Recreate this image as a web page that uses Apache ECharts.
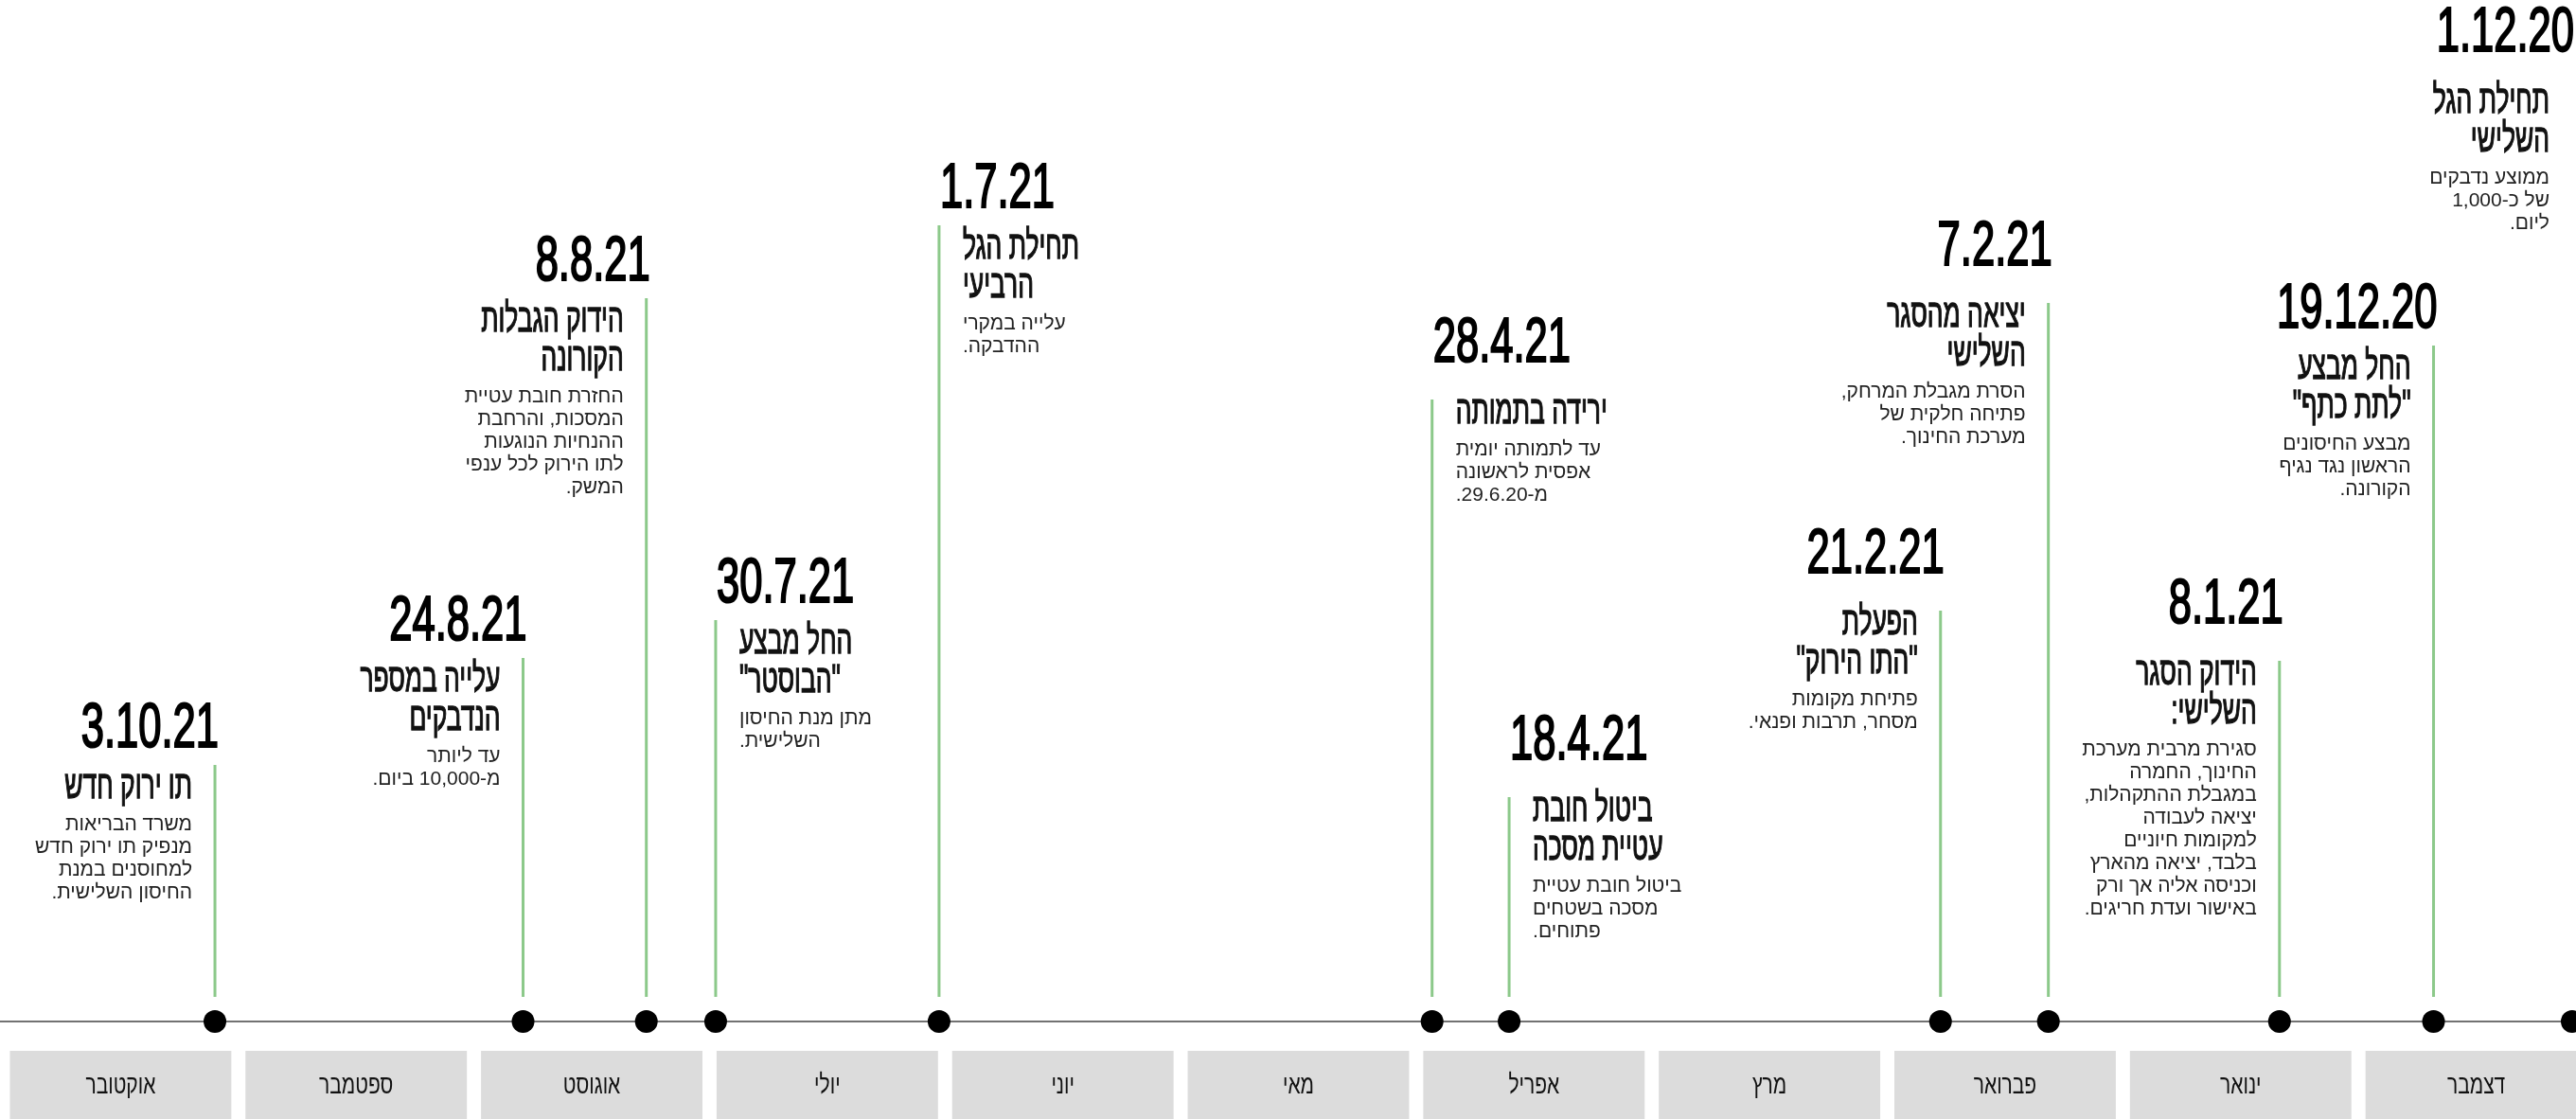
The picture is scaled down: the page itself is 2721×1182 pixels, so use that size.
<!DOCTYPE html>
<html lang="he">
<head>
<meta charset="utf-8">
<title>ציר זמן</title>
<script src="https://cdn.jsdelivr.net/npm/echarts@6/dist/echarts.min.js"></script>
<style>
  html, body { margin: 0; padding: 0; background: #fff; }
  #chart { width: 2721px; height: 1182px; }
</style>
</head>
<body>
<div id="chart" dir="rtl"></div>
<script>
// ---- data ----
const eventDates = ['2020-12-01', '2020-12-19', '2021-01-08', '2021-02-07', '2021-02-21', '2021-04-18',
  '2021-04-28', '2021-07-01', '2021-07-30', '2021-08-08', '2021-08-24', '2021-10-03'];
const eventLabels = ['1.12.20', '19.12.20', '8.1.21', '7.2.21', '21.2.21', '18.4.21',
  '28.4.21', '1.7.21', '30.7.21', '8.8.21', '24.8.21', '3.10.21'];
const eventTitles = [
  'תחילת הגל\nהשלישי',
  'החל מבצע\n"לתת כתף"',
  'הידוק הסגר\nהשלישי:',
  'יציאה מהסגר\nהשלישי',
  'הפעלת\n"התו הירוק"',
  'ביטול חובת\nעטיית מסכה',
  'ירידה בתמותה',
  'תחילת הגל\nהרביעי',
  'החל מבצע\n"הבוסטר"',
  'הידוק הגבלות\nהקורונה',
  'עלייה במספר\nהנדבקים',
  'תו ירוק חדש'
];
const eventTexts = [
  'ממוצע נדבקים\nשל כ-1,000\nליום.',
  'מבצע החיסונים\nהראשון נגד נגיף\nהקורונה.',
  'סגירת מרבית מערכת\nהחינוך, החמרה\nבמגבלת ההתקהלות,\nיציאה לעבודה\nלמקומות חיוניים\nבלבד, יציאה מהארץ\nוכניסה אליה אך ורק\nבאישור ועדת חריגים.',
  'הסרת מגבלת המרחק,\nפתיחה חלקית של\nמערכת החינוך.',
  'פתיחת מקומות\nמסחר, תרבות ופנאי.',
  'ביטול חובת עטיית\nמסכה בשטחים\nפתוחים.',
  'עד לתמותה יומית\nאפסית לראשונה\nמ-29.6.20.',
  'עלייה במקרי\nההדבקה.',
  'מתן מנת החיסון\nהשלישית.',
  'החזרת חובת עטיית\nהמסכות, והרחבת\nההנחיות הנוגעות\nלתו הירוק לכל ענפי\nהמשק.',
  'עד ליותר\nמ-10,000 ביום.',
  'משרד הבריאות\nמנפיק תו ירוק חדש\nלמחוסנים במנת\nהחיסון השלישית.'
];
// height of each stem above the axis
const stemHeights = [985, 714, 381, 759, 434, 237, 657, 841, 424, 764, 384, 271];
const months = ['דצמבר', 'ינואר', 'פברואר', 'מרץ', 'אפריל', 'מאי', 'יוני', 'יולי', 'אוגוסט', 'ספטמבר', 'אוקטובר'];

// ---- layout ----
const textSide = ['L', 'L', 'L', 'L', 'L', 'R', 'R', 'R', 'R', 'L', 'L', 'L'];
// 'A' = date close to the stem, 'B' = date raised higher
const blockKind = ['B', 'A', 'B', 'B', 'B', 'B', 'B', 'A', 'A', 'A', 'A', 'A'];
const DAY = 86400000;
const FONT = '"Liberation Sans", "DejaVu Sans", sans-serif';
const GREEN = '#8cc98a';

function toTime(s) {
  const p = s.split('-');
  return new Date(+p[0], +p[1] - 1, +p[2]).getTime();
}

const tMin = toTime('2020-12-01');
const tMax = tMin + 333.9 * DAY;

function renderEvent(params, api) {
  const i = api.value(2);
  const base = api.coord([api.value(0), 0]);
  const top = api.coord([api.value(0), api.value(1)]);
  const x = base[0];
  const T = top[1];
  const W = api.getWidth();
  const edge = x > W - 20;
  const left = textSide[i] === 'L';
  const align = left ? 'right' : 'left';
  const dateX = left ? Math.min(x + 4, W - 2) : x + 1;
  const textX = left ? x - 24 : x + 25;
  const nTitle = eventTitles[i].split('\n').length;
  const kindA = blockKind[i] === 'A';
  const dateY = T - (kindA ? 37 : 58);
  const titleMid = T + (kindA ? 23 : 13);
  const titleTop = titleMid - 20.5;
  const bodyTop = titleMid + (nTitle - 1) * 41 + 40 - 12;
  const children = [];
  if (!edge) {
    children.push({
      type: 'line',
      shape: { x1: x, y1: base[1] - 26, x2: x, y2: T },
      style: { stroke: GREEN, lineWidth: 3 }
    });
  }
  children.push({
    type: 'text', x: dateX, y: dateY, scaleX: 0.65,
    style: { text: eventLabels[i], fontSize: 67, fontFamily: FONT,
      fill: '#000', stroke: '#000', lineWidth: 2.2, align: align, verticalAlign: 'middle' }
  });
  children.push({
    type: 'text', x: textX, y: titleTop, scaleX: 0.63,
    style: { text: eventTitles[i], fontSize: 42, fontFamily: FONT, lineHeight: 41,
      fill: '#111', stroke: '#111', lineWidth: 1.3, align: align, verticalAlign: 'top' }
  });
  children.push({
    type: 'text', x: textX, y: bodyTop,
    style: { text: eventTexts[i], fontSize: 21, fontFamily: FONT, lineHeight: 24,
      fill: '#222', align: align, verticalAlign: 'top' }
  });
  return { type: 'group', children: children };
}

function renderMonth(params, api) {
  const c = api.coord([api.value(0), 0]);
  const band = api.size([1, 0])[0];
  const cs = params.coordSys;
  const w = band * 0.94;
  return {
    type: 'group',
    children: [
      { type: 'rect', shape: { x: c[0] - w / 2, y: cs.y, width: w, height: cs.height },
        style: { fill: '#dcdcdc' } },
      { type: 'text', x: c[0], y: cs.y + cs.height / 2 + 1, scaleX: 0.75,
        style: { text: months[api.value(0)], fontSize: 28, fontFamily: FONT, fill: '#111',
          align: 'center', verticalAlign: 'middle' } }
    ]
  };
}

const chart = echarts.init(document.getElementById('chart'));

const option = {
  backgroundColor: '#fff',
  animation: false,
  grid: [
    { left: 0, right: 4, top: 0, height: 1079, outerBoundsMode: 'none' },
    { left: 3, width: 2737, top: 1110, height: 72, outerBoundsMode: 'none' }
  ],
  xAxis: [
    {
      type: 'time', gridIndex: 0, inverse: true, min: tMin, max: tMax,
      axisLine: { show: true, lineStyle: { color: '#444', width: 1.5 } },
      axisTick: { show: false }, axisLabel: { show: false }, splitLine: { show: false }
    },
    {
      type: 'category', gridIndex: 1, inverse: true, data: months,
      axisLine: { show: false }, axisTick: { show: false }, axisLabel: { show: false }
    }
  ],
  yAxis: [
    { type: 'value', gridIndex: 0, min: 0, max: 1079, show: false },
    { type: 'value', gridIndex: 1, min: 0, max: 1, show: false }
  ],
  series: [
    {
      type: 'custom', xAxisIndex: 0, yAxisIndex: 0,
      renderItem: renderEvent,
      encode: { x: 0, y: 1 },
      data: eventDates.map((d, i) => [toTime(d), stemHeights[i], i]),
      z: 2
    },
    {
      type: 'scatter', xAxisIndex: 0, yAxisIndex: 0,
      symbolSize: 24,
      itemStyle: { color: '#000', opacity: 1 },
      data: eventDates.map(d => [toTime(d), 0]),
      clip: false,
      z: 3
    },
    {
      type: 'custom', xAxisIndex: 1, yAxisIndex: 1,
      renderItem: renderMonth,
      encode: { x: 0, y: 1 },
      data: months.map((m, i) => [i, 1])
    }
  ]
};

chart.setOption(option);
</script>
</body>
</html>
